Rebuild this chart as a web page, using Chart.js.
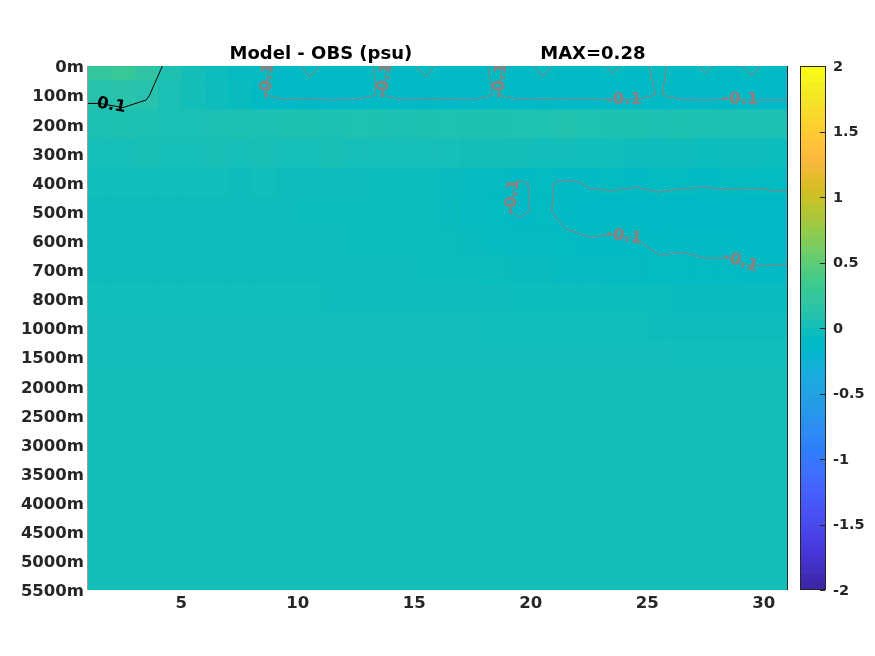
<!DOCTYPE html>
<html>
<head>
<meta charset="utf-8">
<script src="https://cdn.jsdelivr.net/npm/chart.js@4.4.1/dist/chart.umd.min.js"></script>
<style>
  body { margin: 0; background: #fff; }
  #wrap { position: relative; width: 875px; height: 656px; }
  #wrap canvas { position: absolute; left: 0; top: 0; }
</style>
</head>
<body>
<div id="wrap">
  <canvas id="main" width="875" height="656"></canvas>
  <canvas id="cbar" width="875" height="656"></canvas>
</div>
<script>
// depth levels (rows) and day bins (columns)
const depthLabels = ['0m','100m','200m','300m','400m','500m','600m','700m','800m','1000m',
  '1500m','2000m','2500m','3000m','3500m','4000m','4500m','5000m','5500m'];
const dayEdges = [1,2,3,4,5,6,7,8,9,10,11,12,13,14,15,16,17,18,19,20,21,22,23,24,25,26,27,28,29,30,31];
const xTicks = [5,10,15,20,25,30];
const cbarTicks = [-2,-1.5,-1,-0.5,0,0.5,1,1.5,2];
const cLim = [-2, 2];
const contourLevels = [-0.1, 0.1];
const contourColors = ['rgb(140,128,128)', '#000000'];
const titleText = 'Model - OBS (psu)';

// Model - OBS salinity difference (psu), one array per depth, one value per day
const d0m    = [0.24,0.28,0.19,0.06,0.01,-0.03,-0.07,-0.09,-0.13,-0.085,-0.12,-0.13,-0.09,-0.12,-0.085,-0.13,-0.12,-0.09,-0.13,-0.085,-0.12,-0.13,-0.09,-0.12,-0.085,-0.13,-0.09,-0.12,-0.085,-0.13];
const d100m  = [0.12,0.13,0.11,0.04,0.01,-0.02,-0.05,-0.095,-0.13,-0.125,-0.13,-0.13,-0.095,-0.13,-0.125,-0.13,-0.13,-0.095,-0.13,-0.125,-0.13,-0.13,-0.13,-0.13,-0.095,-0.13,-0.13,-0.125,-0.13,-0.13];
const d200m  = [0.05,0.06,0.05,0.04,0.04,0.05,0.05,0.05,0.06,0.06,0.05,0.07,0.06,0.05,0.06,0.07,0.06,0.06,0.07,0.07,0.08,0.07,0.06,0.06,0.05,0.06,0.05,0.05,0.05,0.05];
const d300m  = [0.02,0.02,0.03,0.02,0.02,0.03,0.02,0.03,0.02,0.02,0.03,0.02,0.02,0.02,0.02,0.02,0.01,0.01,0.01,0.0,0.0,-0.01,-0.01,-0.02,-0.02,-0.02,-0.03,-0.02,-0.02,-0.03];
const d400m  = [-0.01,-0.01,-0.01,-0.01,-0.01,-0.01,-0.02,-0.01,-0.02,-0.02,-0.02,-0.02,-0.03,-0.03,-0.03,-0.05,-0.06,-0.08,-0.105,-0.092,-0.108,-0.095,-0.092,-0.095,-0.09,-0.093,-0.096,-0.09,-0.094,-0.092];
const d500m  = [-0.02,-0.02,-0.02,-0.02,-0.02,-0.02,-0.02,-0.02,-0.02,-0.03,-0.03,-0.03,-0.03,-0.03,-0.04,-0.05,-0.07,-0.085,-0.108,-0.09,-0.115,-0.12,-0.12,-0.125,-0.12,-0.125,-0.12,-0.13,-0.125,-0.12];
const d600m  = [-0.02,-0.02,-0.02,-0.02,-0.02,-0.02,-0.02,-0.02,-0.02,-0.02,-0.02,-0.03,-0.03,-0.03,-0.03,-0.04,-0.05,-0.06,-0.07,-0.07,-0.09,-0.097,-0.095,-0.098,-0.11,-0.108,-0.115,-0.112,-0.12,-0.12];
const d700m  = [-0.02,-0.02,-0.02,-0.02,-0.02,-0.02,-0.02,-0.02,-0.02,-0.02,-0.02,-0.02,-0.02,-0.02,-0.03,-0.03,-0.03,-0.04,-0.05,-0.05,-0.06,-0.06,-0.07,-0.07,-0.09,-0.088,-0.09,-0.092,-0.097,-0.096];
const d800m  = [-0.01,-0.01,-0.01,-0.01,-0.01,-0.01,-0.01,-0.01,-0.01,-0.01,-0.02,-0.02,-0.02,-0.02,-0.02,-0.02,-0.02,-0.02,-0.03,-0.03,-0.03,-0.03,-0.04,-0.04,-0.04,-0.05,-0.05,-0.05,-0.05,-0.05];
const d1000m = [0.0,0.0,0.0,0.0,0.0,0.0,0.0,0.0,0.0,0.0,0.0,0.0,0.0,0.0,0.0,0.0,0.0,-0.01,-0.01,-0.01,-0.01,-0.01,-0.01,-0.01,-0.02,-0.02,-0.02,-0.02,-0.02,-0.02];
const d1500m = [0.0,0.0,0.0,0.0,0.0,0.0,0.0,0.0,0.0,0.0,0.0,0.0,0.0,0.0,0.0,0.0,0.0,0.0,0.0,0.0,0.0,0.0,0.0,0.0,0.0,-0.01,-0.01,-0.01,-0.01,-0.01];
const d2000m = [0.01,0.01,0.01,0.01,0.01,0.01,0.01,0.01,0.01,0.01,0.01,0.01,0.01,0.01,0.01,0.01,0.01,0.01,0.01,0.01,0.01,0.01,0.01,0.01,0.01,0.01,0.01,0.01,0.01,0.01];
const d2500m = [0.01,0.01,0.01,0.01,0.01,0.01,0.01,0.01,0.01,0.01,0.01,0.01,0.01,0.01,0.01,0.01,0.01,0.01,0.01,0.01,0.01,0.01,0.01,0.01,0.01,0.01,0.01,0.01,0.01,0.01];
const d3000m = [0.01,0.01,0.01,0.01,0.01,0.01,0.01,0.01,0.01,0.01,0.01,0.01,0.01,0.01,0.01,0.01,0.01,0.01,0.01,0.01,0.01,0.01,0.01,0.01,0.01,0.01,0.01,0.01,0.01,0.01];
const d3500m = [0.01,0.01,0.01,0.01,0.01,0.01,0.01,0.01,0.01,0.01,0.01,0.01,0.01,0.01,0.01,0.01,0.01,0.01,0.01,0.01,0.01,0.01,0.01,0.01,0.01,0.01,0.01,0.01,0.01,0.01];
const d4000m = [0.01,0.01,0.01,0.01,0.01,0.01,0.01,0.01,0.01,0.01,0.01,0.01,0.01,0.01,0.01,0.01,0.01,0.01,0.01,0.01,0.01,0.01,0.01,0.01,0.01,0.01,0.01,0.01,0.01,0.01];
const d4500m = [0.01,0.01,0.01,0.01,0.01,0.01,0.01,0.01,0.01,0.01,0.01,0.01,0.01,0.01,0.01,0.01,0.01,0.01,0.01,0.01,0.01,0.01,0.01,0.01,0.01,0.01,0.01,0.01,0.01,0.01];
const d5000m = [0.01,0.01,0.01,0.01,0.01,0.01,0.01,0.01,0.01,0.01,0.01,0.01,0.01,0.01,0.01,0.01,0.01,0.01,0.01,0.01,0.01,0.01,0.01,0.01,0.01,0.01,0.01,0.01,0.01,0.01];
const d5500m = [0.01,0.01,0.01,0.01,0.01,0.01,0.01,0.01,0.01,0.01,0.01,0.01,0.01,0.01,0.01,0.01,0.01,0.01,0.01,0.01,0.01,0.01,0.01,0.01,0.01,0.01,0.01,0.01,0.01,0.01];
const grid = [d0m,d100m,d200m,d300m,d400m,d500m,d600m,d700m,d800m,d1000m,
  d1500m,d2000m,d2500m,d3000m,d3500m,d4000m,d4500m,d5000m,d5500m];

// parula colormap (64 steps)
const parulaMap = [
  [0.2422,0.1504,0.6603],[0.2504,0.1650,0.7076],[0.2578,0.1818,0.7511],[0.2647,0.1978,0.7952],
  [0.2706,0.2147,0.8364],[0.2751,0.2342,0.8710],[0.2783,0.2559,0.8991],[0.2803,0.2782,0.9221],
  [0.2813,0.3006,0.9414],[0.2810,0.3228,0.9579],[0.2795,0.3447,0.9717],[0.2760,0.3667,0.9829],
  [0.2699,0.3892,0.9906],[0.2602,0.4123,0.9952],[0.2440,0.4358,0.9988],[0.2206,0.4603,0.9973],
  [0.1963,0.4847,0.9892],[0.1834,0.5074,0.9798],[0.1786,0.5289,0.9682],[0.1764,0.5499,0.9520],
  [0.1687,0.5703,0.9359],[0.1540,0.5902,0.9218],[0.1460,0.6091,0.9079],[0.1380,0.6276,0.8973],
  [0.1248,0.6459,0.8883],[0.1113,0.6635,0.8763],[0.0952,0.6798,0.8598],[0.0689,0.6948,0.8394],
  [0.0297,0.7082,0.8163],[0.0036,0.7203,0.7917],[0.0067,0.7312,0.7660],[0.0433,0.7411,0.7394],
  [0.0964,0.7500,0.7120],[0.1408,0.7584,0.6842],[0.1717,0.7670,0.6554],[0.1938,0.7758,0.6251],
  [0.2161,0.7843,0.5923],[0.2470,0.7918,0.5567],[0.2906,0.7973,0.5188],[0.3406,0.8008,0.4789],
  [0.3909,0.8029,0.4354],[0.4456,0.8024,0.3909],[0.5044,0.7993,0.3480],[0.5616,0.7942,0.3045],
  [0.6174,0.7876,0.2612],[0.6720,0.7793,0.2227],[0.7242,0.7698,0.1910],[0.7738,0.7598,0.1646],
  [0.8203,0.7498,0.1535],[0.8634,0.7406,0.1596],[0.9035,0.7330,0.1774],[0.9393,0.7288,0.2100],
  [0.9728,0.7298,0.2394],[0.9956,0.7434,0.2371],[0.9970,0.7659,0.2199],[0.9952,0.7893,0.2028],
  [0.9892,0.8136,0.1885],[0.9786,0.8386,0.1766],[0.9676,0.8639,0.1643],[0.9610,0.8890,0.1537],
  [0.9597,0.9135,0.1423],[0.9628,0.9373,0.1265],[0.9691,0.9606,0.1064],[0.9769,0.9839,0.0805]
];

function rgb(c) {
  return 'rgb(' + c.map(x => Math.round(x * 255)).join(',') + ')';
}
function parula(v) {
  let t = (v - cLim[0]) / (cLim[1] - cLim[0]);
  t = Math.min(1, Math.max(0, t));
  const f = t * (parulaMap.length - 1);
  const i = Math.min(Math.floor(f), parulaMap.length - 2);
  const w = f - i;
  const a = parulaMap[i], b = parulaMap[i + 1];
  return rgb(a.map((x, k) => x + (b[k] - x) * w));
}

const axisColor = '#262626';
const fontFamily = '"DejaVu Sans", sans-serif';
Chart.defaults.font.family = fontFamily;

// one floating-bar dataset per day column
const heatSets = dayEdges.slice(0, -1).map((d, j) => ({
  data: grid.map(() => [dayEdges[j], dayEdges[j + 1]]),
  backgroundColor: grid.map(row => parula(row[j])),
  borderWidth: 0,
  grouped: false,
  barPercentage: 1,
  categoryPercentage: 1
}));

// marching squares on the grid, nodes at day centres (edges padded)
function contourSegments(level) {
  const xs = [dayEdges[0]];
  for (let j = 0; j < dayEdges.length - 1; j++) xs.push((dayEdges[j] + dayEdges[j + 1]) / 2);
  xs.push(dayEdges[dayEdges.length - 1]);
  const vals = grid.map(row => [row[0]].concat(row, [row[row.length - 1]]));
  const segs = [];
  for (let i = 0; i < vals.length - 1; i++) {
    for (let k = 0; k < xs.length - 1; k++) {
      const c = [[xs[k], i, vals[i][k]], [xs[k + 1], i, vals[i][k + 1]],
                 [xs[k + 1], i + 1, vals[i + 1][k + 1]], [xs[k], i + 1, vals[i + 1][k]]];
      const pts = [];
      for (let e = 0; e < 4; e++) {
        const p = c[e], q = c[(e + 1) % 4];
        if ((p[2] - level) * (q[2] - level) < 0) {
          const t = (level - p[2]) / (q[2] - p[2]);
          pts.push([p[0] + t * (q[0] - p[0]), p[1] + t * (q[1] - p[1])]);
        }
      }
      if (pts.length === 2) segs.push(pts);
      else if (pts.length === 4) { segs.push([pts[0], pts[1]]); segs.push([pts[2], pts[3]]); }
    }
  }
  return segs;
}

const contourPlugin = {
  id: 'contours',
  afterDatasetsDraw(chart) {
    const { ctx, chartArea: ca } = chart;
    const xs = chart.scales.x, ys = chart.scales.y;
    ctx.save();
    ctx.beginPath();
    ctx.rect(ca.left, ca.top, ca.right - ca.left, ca.bottom - ca.top);
    ctx.clip();
    contourLevels.forEach((lev, n) => {
      const segs = contourSegments(lev).map(s => s.map(p => [xs.getPixelForValue(p[0]), ys.getPixelForValue(p[1])]));
      ctx.strokeStyle = contourColors[n];
      ctx.lineWidth = 1;
      ctx.beginPath();
      segs.forEach(s => { ctx.moveTo(s[0][0], s[0][1]); ctx.lineTo(s[1][0], s[1][1]); });
      ctx.stroke();
      // labels, spaced apart
      const placed = [];
      const sorted = segs.slice().sort((a, b) => (a[0][0] + a[1][0]) - (b[0][0] + b[1][0]));
      ctx.fillStyle = contourColors[n];
      ctx.font = 'bold 16.5px ' + fontFamily;
      ctx.textAlign = 'center';
      ctx.textBaseline = 'middle';
      sorted.forEach(s => {
        const dx = s[1][0] - s[0][0], dy = s[1][1] - s[0][1];
        if (Math.hypot(dx, dy) < 8) return;
        const mx = (s[0][0] + s[1][0]) / 2, my = (s[0][1] + s[1][1]) / 2;
        if (mx < ca.left + 12 || mx > ca.right - 12 || my < ca.top + 10) return;
        if (placed.some(p => Math.hypot(p[0] - mx, p[1] - my) < 110)) return;
        placed.push([mx, my]);
        let ang = Math.atan2(dy, dx);
        if (ang > Math.PI / 2) ang -= Math.PI;
        if (ang < -Math.PI / 2) ang += Math.PI;
        ctx.save();
        ctx.translate(mx, my);
        ctx.rotate(ang);
        ctx.fillText(String(lev), 0, 0);
        ctx.restore();
      });
    });
    ctx.restore();
  }
};

const framePlugin = {
  id: 'frame',
  afterDraw(chart) {
    const { ctx, chartArea: ca } = chart;
    ctx.save();
    ctx.strokeStyle = axisColor;
    ctx.lineWidth = 1;
    ctx.beginPath();
    ctx.moveTo(Math.round(ca.right) + 0.5, ca.top);
    ctx.lineTo(Math.round(ca.right) + 0.5, ca.bottom);
    ctx.stroke();
    ctx.strokeStyle = 'rgba(38,38,38,0.45)';
    ctx.beginPath();
    ctx.moveTo(Math.round(ca.left) - 0.5, ca.top);
    ctx.lineTo(Math.round(ca.left) - 0.5, ca.bottom);
    ctx.stroke();
    // title
    const maxVal = Math.max(...grid.map(r => Math.max(...r)));
    const maxText = 'MAX=' + maxVal.toFixed(2);
    ctx.font = 'bold 18px ' + fontFamily;
    ctx.fillStyle = '#000';
    ctx.textBaseline = 'alphabetic';
    ctx.textAlign = 'left';
    const gap = 128;
    const w1 = ctx.measureText(titleText).width, w2 = ctx.measureText(maxText).width;
    const x0 = (ca.left + ca.right) / 2 - (w1 + gap + w2) / 2;
    ctx.fillText(titleText, x0, 59);
    ctx.fillText(maxText, x0 + w1 + gap, 59);
    ctx.restore();
  }
};

new Chart(document.getElementById('main'), {
  type: 'bar',
  data: { labels: depthLabels, datasets: heatSets },
  options: {
    responsive: false,
    animation: false,
    indexAxis: 'y',
    layout: { padding: { top: 66, right: 88, left: 0, bottom: 0 } },
    plugins: { legend: { display: false }, tooltip: { enabled: false } },
    scales: {
      x: {
        type: 'linear', min: dayEdges[0], max: dayEdges[dayEdges.length - 1],
        grid: { display: false, drawTicks: false }, border: { display: false },
        afterBuildTicks: s => { s.ticks = xTicks.map(v => ({ value: v })); },
        ticks: { color: axisColor, font: { size: 16.5, weight: 'bold' }, padding: 4, maxRotation: 0 },
        afterFit: s => { s.height = 66; }
      },
      y: {
        type: 'category', offset: false,
        grid: { display: false, drawTicks: false }, border: { display: false },
        ticks: { color: axisColor, font: { size: 16.5, weight: 'bold' }, padding: 4, autoSkip: false, labelOffset: 2 },
        afterFit: s => { s.width = 88; }
      }
    }
  },
  plugins: [contourPlugin, framePlugin]
});

// colour bar
const nSteps = parulaMap.length;
const cbarSets = parulaMap.map((c, k) => ({
  data: [[cLim[0] + k * (cLim[1] - cLim[0]) / nSteps, cLim[0] + (k + 1) * (cLim[1] - cLim[0]) / nSteps]],
  backgroundColor: rgb(c),
  borderWidth: 0,
  grouped: false,
  barPercentage: 1,
  categoryPercentage: 1
}));

const cbarFrame = {
  id: 'cbarFrame',
  afterDraw(chart) {
    const { ctx, chartArea: ca } = chart;
    const ys = chart.scales.y;
    ctx.save();
    ctx.strokeStyle = axisColor;
    ctx.lineWidth = 1;
    ctx.strokeRect(Math.round(ca.left) + 0.5, Math.round(ca.top) + 0.5,
      Math.round(ca.right - ca.left) - 1, Math.round(ca.bottom - ca.top) - 1);
    ctx.beginPath();
    cbarTicks.forEach(v => {
      const y = Math.round(ys.getPixelForValue(v)) + 0.5;
      ctx.moveTo(ca.right - 1, y);
      ctx.lineTo(ca.right - 6, y);
    });
    ctx.stroke();
    ctx.restore();
  }
};

new Chart(document.getElementById('cbar'), {
  type: 'bar',
  data: { labels: [''], datasets: cbarSets },
  options: {
    responsive: false,
    animation: false,
    layout: { padding: { left: 800, top: 66, bottom: 66, right: 0 } },
    plugins: { legend: { display: false }, tooltip: { enabled: false } },
    scales: {
      x: { display: false },
      y: {
        position: 'right', min: cLim[0], max: cLim[1],
        grid: { display: false, drawTicks: false }, border: { display: false },
        afterBuildTicks: s => { s.ticks = cbarTicks.map(v => ({ value: v })); },
        ticks: { color: axisColor, font: { size: 14.5, weight: 'bold' }, padding: 7, labelOffset: 1, callback: v => String(v) },
        afterFit: s => { s.width = 49; }
      }
    }
  },
  plugins: [cbarFrame]
});
</script>
</body>
</html>
